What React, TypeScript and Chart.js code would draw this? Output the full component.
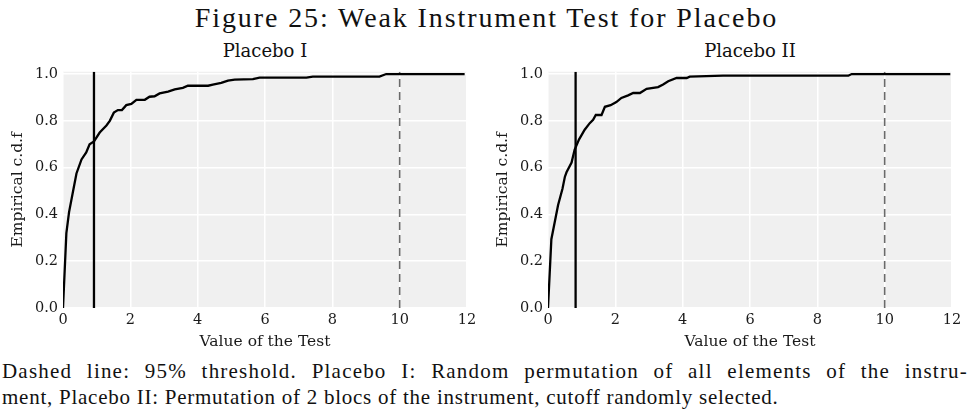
import React, { useEffect, useRef } from "react";
import { Chart, registerables } from "chart.js";

Chart.register(...registerables);

// Placebo I empirical CDF (sorted test values, cumulative share)
const placeboIX = [0, 0.1, 0.18, 0.3, 0.4, 0.55, 0.69, 0.79, 0.92, 1.09, 1.29, 1.39, 1.51, 1.63, 1.75, 1.88, 2.03, 2.18, 2.43, 2.57, 2.72, 2.87, 3.12, 3.32, 3.56, 3.71, 4.31, 4.45, 4.7, 4.9, 5.1, 5.64, 5.84, 7.23, 7.42, 9.4, 9.6, 11.93];
const placeboIY = [0, 0.32, 0.41, 0.5, 0.575, 0.635, 0.665, 0.7, 0.712, 0.75, 0.78, 0.8, 0.835, 0.846, 0.846, 0.867, 0.872, 0.89, 0.89, 0.903, 0.905, 0.917, 0.925, 0.934, 0.941, 0.95, 0.95, 0.955, 0.962, 0.972, 0.976, 0.978, 0.985, 0.985, 0.989, 0.989, 1.0, 1.0];

// Placebo II empirical CDF
const placeboIIX = [0, 0.1, 0.3, 0.43, 0.5, 0.55, 0.7, 0.79, 0.92, 1.09, 1.24, 1.34, 1.42, 1.59, 1.69, 1.86, 2.03, 2.18, 2.38, 2.53, 2.73, 2.93, 3.27, 3.42, 3.57, 3.82, 4.12, 4.21, 5.2, 8.92, 9.02, 11.95];
const placeboIIY = [0, 0.294, 0.44, 0.51, 0.56, 0.58, 0.622, 0.676, 0.72, 0.762, 0.79, 0.804, 0.825, 0.825, 0.86, 0.867, 0.88, 0.898, 0.909, 0.919, 0.919, 0.937, 0.944, 0.955, 0.969, 0.983, 0.983, 0.989, 0.993, 0.993, 1.0, 1.0];

// Observed test statistic (solid line) and 95% threshold (dashed)
const observedI = 0.92;
const observedII = 0.82;
const threshold = 10;

const xTicks = [0, 2, 4, 6, 8, 10, 12];
const yTicks = [0, 0.2, 0.4, 0.6, 0.8, 1.0];

const serifTick = "'DejaVu Serif', serif";

const bgPlugin = {
  id: "bgArea",
  beforeDraw(chart: any) {
    const { ctx, chartArea } = chart;
    ctx.save();
    ctx.fillStyle = "#f0f0f0";
    ctx.fillRect(chartArea.left, chartArea.top, chartArea.right - chartArea.left, chartArea.bottom - chartArea.top);
    ctx.restore();
  },
};

function CdfChart({ xs, ys, observed }: { xs: number[]; ys: number[]; observed: number }) {
  const ref = useRef<HTMLCanvasElement | null>(null);
  useEffect(() => {
    if (!ref.current) return;
    const chart = new Chart(ref.current, {
      type: "line",
      data: {
        datasets: [
          {
            data: xs.map((x, i) => ({ x, y: ys[i] })),
            borderColor: "#000",
            borderWidth: 2.3,
            pointRadius: 0,
            tension: 0,
          },
          {
            data: [
              { x: observed, y: 0 },
              { x: observed, y: 1.01 },
            ],
            borderColor: "#000",
            borderWidth: 2.3,
            pointRadius: 0,
          },
          {
            data: [
              { x: threshold, y: 0 },
              { x: threshold, y: 1.01 },
            ],
            borderColor: "#6a6a6a",
            borderWidth: 1.6,
            borderDash: [8, 5],
            pointRadius: 0,
          },
        ],
      },
      options: {
        animation: false,
        responsive: false,
        devicePixelRatio: 1,
        layout: { padding: { top: 10, right: 19, left: 0, bottom: 0 } },
        plugins: { legend: { display: false }, tooltip: { enabled: false }, title: { display: false } },
        scales: {
          x: {
            type: "linear",
            min: 0,
            max: 12,
            afterBuildTicks: (scale: any) => {
              scale.ticks = xTicks.map((v) => ({ value: v }));
            },
            afterFit: (scale: any) => {
              scale.height = 46;
            },
            ticks: {
              color: "#1a1a1a",
              font: { family: serifTick, size: 14.5 },
              padding: 4,
              maxRotation: 0,
              callback: (v: any) => String(v),
            },
            grid: { color: "#ffffff", lineWidth: 1.5, drawTicks: false },
            border: { display: false },
            title: {
              display: true,
              text: "Value of the Test",
              color: "#1a1a1a",
              font: { family: serifTick, size: 15.5 },
              padding: { top: 0, bottom: 3 },
            },
          },
          y: {
            type: "linear",
            min: 0,
            max: 1.01,
            afterBuildTicks: (scale: any) => {
              scale.ticks = yTicks.map((v) => ({ value: v }));
            },
            afterFit: (scale: any) => {
              scale.width = 63;
            },
            ticks: {
              color: "#1a1a1a",
              font: { family: serifTick, size: 14.5 },
              padding: 5,
              callback: (v: any) => Number(v).toFixed(1),
            },
            grid: { color: "#ffffff", lineWidth: 1.5, drawTicks: false },
            border: { display: false },
            title: {
              display: true,
              text: "Empirical c.d.f",
              color: "#1a1a1a",
              font: { family: serifTick, size: 15.5 },
              padding: { top: 9, bottom: 0 },
            },
          },
        },
      },
      plugins: [bgPlugin],
    } as any);
    return () => chart.destroy();
  }, []);
  return <canvas ref={ref} width={486} height={296} style={{ width: 486, height: 296, display: "block" }} />;
}

export default function App() {
  useEffect(() => {
    document.body.style.margin = "0";
  }, []);
  const cmFont = "'Liberation Serif', 'Times New Roman', serif";
  return (
    <div style={{ position: "absolute", left: 0, top: 0, width: 973, height: 412, background: "#fff", overflow: "hidden" }}>
      <div
        style={{
          position: "absolute",
          left: 0,
          width: 973,
          top: 2,
          textAlign: "center",
          fontFamily: cmFont,
          fontSize: 28,
          letterSpacing: "1.9px",
          lineHeight: "32px",
          color: "#111",
        }}
      >
        Figure 25: Weak Instrument Test for Placebo
      </div>
      <div
        style={{
          position: "absolute",
          left: 165,
          width: 200,
          top: 40,
          textAlign: "center",
          fontFamily: serifTick,
          fontSize: 18,
          lineHeight: "22px",
          color: "#111",
        }}
      >
        Placebo I
      </div>
      <div
        style={{
          position: "absolute",
          left: 650,
          width: 200,
          top: 40,
          textAlign: "center",
          fontFamily: serifTick,
          fontSize: 18,
          lineHeight: "22px",
          color: "#111",
        }}
      >
        Placebo II
      </div>
      <div style={{ position: "absolute", left: 0, top: 58 }}>
        <CdfChart xs={placeboIX} ys={placeboIY} observed={observedI} />
      </div>
      <div style={{ position: "absolute", left: 485, top: 58 }}>
        <CdfChart xs={placeboIIX} ys={placeboIIY} observed={observedII} />
      </div>
      <div
        style={{
          position: "absolute",
          left: 2,
          width: 966,
          top: 358,
          fontFamily: cmFont,
          fontSize: 21,
          letterSpacing: "0.75px",
          lineHeight: "26px",
          color: "#111",
        }}
      >
        <div style={{ textAlign: "justify", textAlignLast: "justify", whiteSpace: "nowrap" as any, letterSpacing: "1.2px" }}>
          Dashed line: 95% threshold. Placebo I: Random permutation of all elements of the instru-
        </div>
        <div>ment, Placebo II: Permutation of 2 blocs of the instrument, cutoff randomly selected.</div>
      </div>
    </div>
  );
}
